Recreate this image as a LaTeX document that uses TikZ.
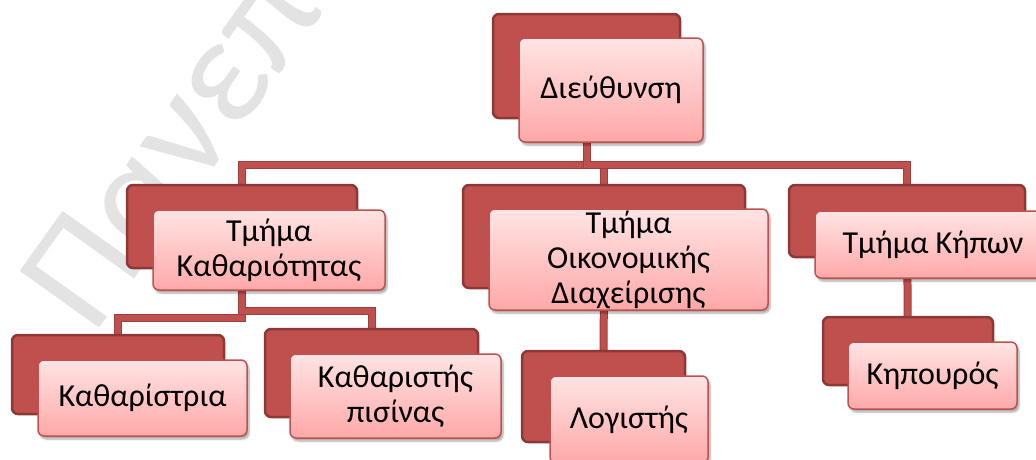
\documentclass[tikz,border=0pt]{standalone}
\usepackage{fontspec}
\setmainfont{Carlito}
\usepackage{xcolor}
\usetikzlibrary{backgrounds,shadows.blur}

\definecolor{boxred}{HTML}{C0504D}
\definecolor{boxdark}{HTML}{8C3836}
\definecolor{pinktop}{HTML}{FFE4E4}
\definecolor{pinkbot}{HTML}{FFA8A8}
\definecolor{markgray}{HTML}{E3E3E3}

\begin{document}
\begin{tikzpicture}[x=1pt,y=-1pt,
  backbox/.style={draw=boxdark, line width=2.5pt, fill=boxred, rounded corners=6pt, inner sep=0pt},
  frontbox/.style={draw=boxred, line width=1.5pt, top color=pinktop, bottom color=pinkbot,
    rounded corners=6pt, inner sep=0pt, align=center, font=\fontsize{32}{35}\selectfont,
    blur shadow={shadow xshift=2pt, shadow yshift=-3pt, shadow blur steps=6, shadow opacity=35}},
  link/.style={draw=boxdark!70!boxred, double=boxred, double distance=6pt, line width=1pt}]

\useasboundingbox (0,0) rectangle (1036,459);
\clip (0,0) rectangle (1036,459);

% Director
\node[backbox, minimum width=187pt, minimum height=104pt] (dirB) at (586.5,66) {};
\node[frontbox, minimum width=184pt, minimum height=104pt] (dir) at (611,90) {Διεύθυνση};

% Departments
\node[backbox, minimum width=230pt, minimum height=83pt] (cleanDeptB) at (242,226.5) {};
\node[frontbox, minimum width=232pt, minimum height=80pt] (cleanDept) at (269,250) {Τμήμα\\Καθαριότητας};

\node[backbox, minimum width=282pt, minimum height=103pt] (finDeptB) at (604,236.5) {};
\node[frontbox, minimum width=279pt, minimum height=101pt] (finDept) at (628.5,259.5) {Τμήμα\\Οικονομικής\\Διαχείρισης};

\node[backbox, minimum width=236pt, minimum height=72pt] (gardDeptB) at (907,221) {};
\node[frontbox, minimum width=236pt, minimum height=67pt] (gardDept) at (933,244.5) {Τμήμα Κήπων};

% Staff
\node[backbox, minimum width=212pt, minimum height=79pt] (cleanerB) at (118,374.5) {};
\node[frontbox, minimum width=209pt, minimum height=76pt] (cleaner) at (142.5,398) {Καθαρίστρια};

\node[backbox, minimum width=213pt, minimum height=88pt] (poolB) at (371.5,373) {};
\node[frontbox, minimum width=211pt, minimum height=84pt] (pool) at (395.5,396) {Καθαριστής\\πισίνας};

\node[backbox, minimum width=163pt, minimum height=91pt] (accB) at (603.5,396.5) {};
\node[frontbox, minimum width=158pt, minimum height=87pt] (acc) at (629,419.5) {Λογιστής};

\node[backbox, minimum width=170pt, minimum height=68pt] (gardenerB) at (908,351) {};
\node[frontbox, minimum width=169pt, minimum height=67pt] (gardener) at (932.5,375.5) {Κηπουρός};

\begin{pgfonlayer}{background}
  \clip (0,0) rectangle (1036,459);
  % Watermark
  \node[rotate=54.5, anchor=base west, inner sep=0pt, text=markgray, font=\fontsize{152}{152}\selectfont] (mark) at (93,337) {Πανεπ};

  % Links
  \draw[link] (dirB.center) -- ++(0,99) -| (cleanDeptB.center);
  \draw[link] (dirB.center) -- ++(0,99) -| (finDeptB.center);
  \draw[link] (dirB.center) -- ++(0,99) -| (gardDeptB.center);
  \draw[link] (cleanDeptB.center) -- ++(0,91.5) -| (cleanerB.center);
  \draw[link] (cleanDeptB.center) -- ++(0,84.5) -| (poolB.center);
  \draw[link] (finDeptB.center) -- (accB.center);
  \draw[link] (gardDeptB.center) -- (gardenerB.center);
\end{pgfonlayer}

\end{tikzpicture}
\end{document}
